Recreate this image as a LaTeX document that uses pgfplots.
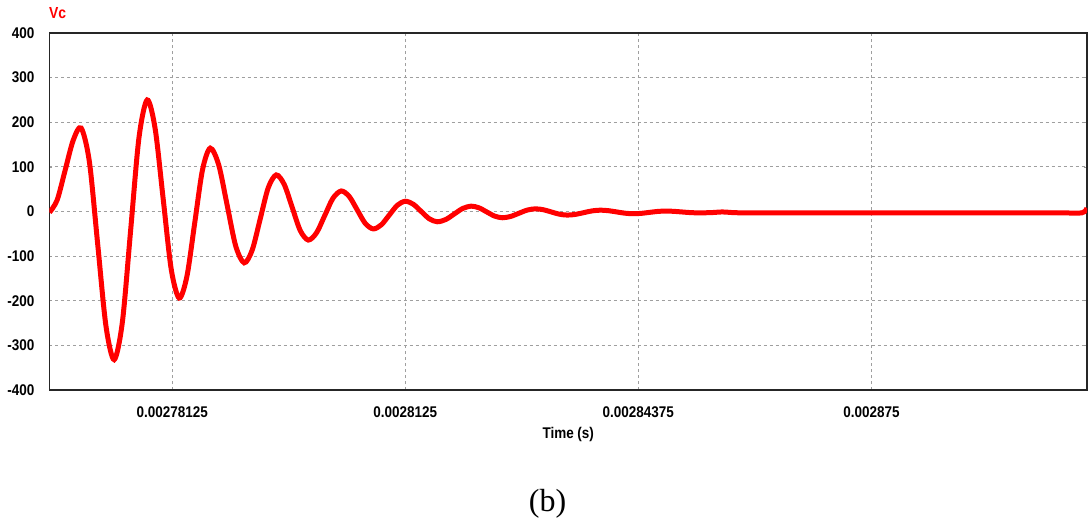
\documentclass[border=0pt]{standalone}
\usepackage{pgfplots}
\pgfplotsset{compat=1.18}
\usepackage{fontspec}
\setmainfont{Liberation Serif}
\newfontfamily\tickfont[FakeStretch=0.87]{Liberation Sans}
\begin{document}
\begin{tikzpicture}[x=1pt,y=1pt]
\path[use as bounding box] (0,0) rectangle (1088,-523);
\begin{axis}[
  at={(49.5pt,-390pt)}, anchor=south west,
  scale only axis, width=1037.5pt, height=357pt,
  xmin=2764.8, xmax=2903.9, ymin=-400, ymax=400,
  xtick={2781.25,2812.5,2843.75,2875},
  xticklabels={0.00278125,0.0028125,0.00284375,0.002875},
  ytick={-400,-300,-200,-100,0,100,200,300,400},
  /pgf/number format/assume math mode=true,
  grid=major,
  major grid style={gray!75, line width=0.8pt, dash pattern=on 3pt off 3pt},
  axis line style={black!85, line width=1.2pt},
  tick align=inside, major tick length=3pt, tick style={gray!80, line width=0.6pt},
  ticklabel style={font=\tickfont\bfseries\fontsize{15.5}{17}\selectfont, inner sep=0pt},
  yticklabel style={anchor=east, xshift=-15pt},
  xticklabel style={anchor=north, yshift=-16pt},
  xlabel={Time (s)},
  xlabel style={at={(axis description cs:0.5,0)}, anchor=north, yshift=-37pt, inner sep=0pt, font=\tickfont\bfseries\fontsize{15.5}{17}\selectfont},
]
\addplot[red, line width=5pt, smooth, tension=0.5] coordinates {
(2764.8,-2) (2765.826,25.7) (2766.899,92.5) (2767.972,159.3) (2769.045,187)
(2770.152,111) (2771.258,-72.5) (2772.365,-256) (2773.471,-332)
(2774.578,-246.8) (2775.684,-41) (2776.791,164.8) (2777.897,250)
(2778.970,185) (2780.043,28) (2781.116,-129) (2782.189,-194)
(2783.228,-144.8) (2784.268,-26) (2785.307,92.8) (2786.347,142)
(2787.487,104.4) (2788.627,13.5) (2789.767,-77.4) (2790.907,-115)
(2791.980,-86.2) (2793.053,-16.5) (2794.126,53.2) (2795.198,82)
(2796.271,60.6) (2797.344,9) (2798.417,-42.6) (2799.490,-64)
(2800.597,-47.9) (2801.703,-9) (2802.810,29.9) (2803.916,46)
(2804.989,33.6) (2806.062,3.5) (2807.135,-26.6) (2808.208,-39)
(2809.281,-29.9) (2810.354,-8) (2811.427,13.9) (2812.500,23)
(2813.573,16.3) (2814.646,0) (2815.719,-16.3) (2816.792,-23)
(2817.932,-17.9) (2819.072,-5.5) (2820.212,6.9) (2821.352,12)
(2822.391,8.2) (2823.431,-1) (2824.470,-10.2) (2825.510,-14)
(2826.616,-11.1) (2827.723,-4) (2828.829,3.1) (2829.936,6)
(2831.009,4) (2832.081,-1) (2833.154,-6) (2834.227,-8)
(2835.334,-6.4) (2836.440,-2.5) (2837.547,1.4) (2838.653,3)
(2839.760,1.8) (2840.866,-1) (2841.973,-3.8) (2843.079,-5)
(2844.152,-4.1) (2845.225,-2) (2846.298,0.1) (2847.371,1)
(2848.478,0.4) (2849.584,-1) (2850.691,-2.4) (2851.797,-3)
(2853.5,-2.5) (2855.0,-1) (2856.5,-2.5) (2858.0,-3) (2862,-3)
(2870,-3) (2880,-3) (2890,-3) (2900,-3) (2903.2,-3) (2903.9,8)
};
\end{axis}
\node[anchor=base west, inner sep=0pt, text=red, font=\tickfont\bfseries\fontsize{16}{18}\selectfont] at (49,-18) {Vc};
\node[inner sep=0pt, font=\fontsize{32}{36}\selectfont] at (547.5,-504) {(b)};
\end{tikzpicture}
\end{document}
